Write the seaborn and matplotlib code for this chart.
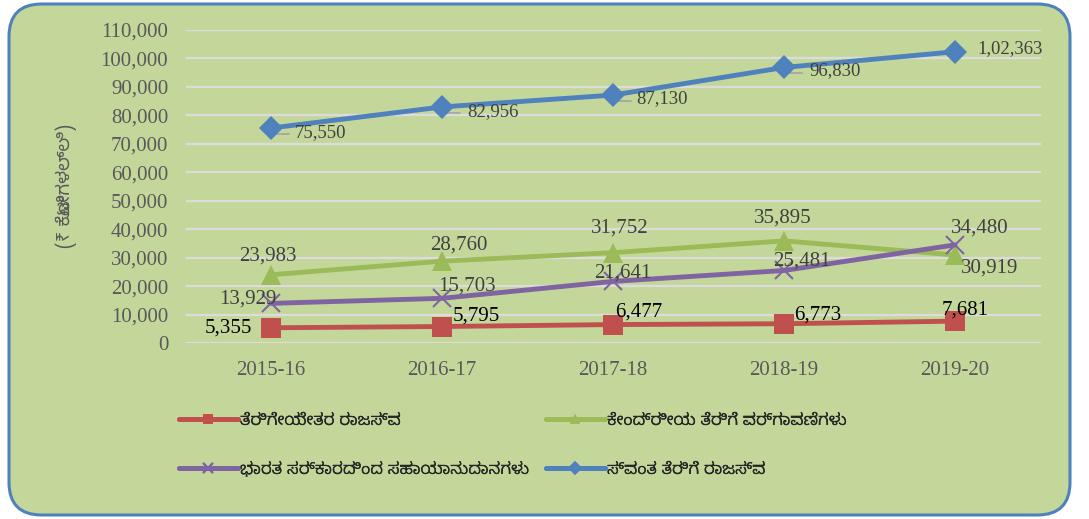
import matplotlib
matplotlib.use("Agg")
import matplotlib.pyplot as plt
import seaborn as sns
import pandas as pd
from matplotlib.patches import FancyBboxPatch
from matplotlib.lines import Line2D
from matplotlib.transforms import IdentityTransform

# ---------------- data ----------------
years = ["2015-16", "2016-17", "2017-18", "2018-19", "2019-20"]
non_tax_revenue = [5355, 5795, 6477, 6773, 7681]
central_tax_transfers = [23983, 28760, 31752, 35895, 30919]
goi_grants = [13929, 15703, 21641, 25481, 34480]
own_tax_revenue = [75550, 82956, 87130, 96830, 102363]
series_names = ["ತೆರಿಗೇಯೇತರ ರಾಜಸ್ವ", "ಕೇಂದ್ರೀಯ ತೆರಿಗೆ ವರ್ಗಾವಣೆಗಳು",
                "ಭಾರತ ಸರ್ಕಾರದಿಂದ ಸಹಾಯಾನುದಾನಗಳು", "ಸ್ವಂತ ತೆರಿಗೆ ರಾಜಸ್ವ"]
own_tax_labels = ["75,550", "82,956", "87,130", "96,830", "1,02,363"]
ylabel = "(₹ ಕೋಟಿಗಳಲ್ಲಿ)"

# ---------------- fonts ----------------
kfam = ["Noto Sans Kannada", "Noto Sans", "DejaVu Sans"]
serif = "Liberation Serif"

sns.set_theme(style="white")
plt.rcParams["font.family"] = kfam

bg = "#C4D79B"
colors = ["#C0504D", "#9BBB59", "#8064A2", "#4F81BD"]
markers = ["s", "^", "x", "D"]
msizes = [14, 14, 13, 12]
tick_col = "#595959"

df = pd.DataFrame({
    "year": years * 4,
    "value": non_tax_revenue + central_tax_transfers + goi_grants + own_tax_revenue,
    "series": sum([[n] * len(years) for n in series_names], []),
})

fig = plt.figure(figsize=(10.89, 5.19), dpi=100)
fig.patch.set_facecolor("white")
frame = FancyBboxPatch((9 / 1089, 4 / 519), 1061 / 1089, 511 / 519,
                       boxstyle="round,pad=0,rounding_size=0.03",
                       transform=fig.transFigure, facecolor=bg,
                       edgecolor="#4F81BD", linewidth=2.2, zorder=-5,
                       mutation_aspect=1089 / 519)
fig.patches.append(frame)

ax = fig.add_axes([185.5 / 1089, 1 - 343 / 519, 855 / 1089, 313 / 519])
ax.set_facecolor("none")
ax.set_zorder(1)

for i, name in enumerate(series_names):
    sub = df[df["series"] == name]
    sns.lineplot(data=sub, x="year", y="value", ax=ax, color=colors[i],
                 marker=markers[i], markersize=msizes[i], linewidth=3.5,
                 markeredgecolor=colors[i], markeredgewidth=1.5 if markers[i] == "x" else 0,
                 label=name, zorder=3 + i, sort=False)

ax.set_xlim(-0.5, 4.5)
ax.set_ylim(0, 110000)
ax.set_yticks(range(0, 110001, 10000))
ax.set_yticklabels([f"{v:,}" for v in range(0, 110001, 10000)],
                   fontfamily=serif, fontsize=15, color=tick_col)
ax.set_xticks(range(len(years)))
ax.set_xticklabels(years, fontfamily=serif, fontsize=15, color=tick_col)
ax.tick_params(axis="y", length=0, pad=12.5)
ax.tick_params(axis="x", length=0, pad=13)
ax.grid(axis="y", color="#DCDCDC", linewidth=1.6, zorder=1)
ax.set_axisbelow(True)
for s in ax.spines.values():
    s.set_visible(False)
ax.set_xlabel("")
ax.set_ylabel(ylabel, fontsize=13, fontweight="bold", color=tick_col,
              family=kfam, labelpad=17)

# data labels (offsets in pixels, y up)
lab_col = "#404040"
off_red = [(-43, 0), (34, 10), (26, 13), (34, 9), (10, 11)]
off_green = [(-3, 19), (17, 16), (7, 25), (-1, 23), (35, -13)]
off_purple = [(-23, 4), (25, 12), (10, 8), (18, 9), (25, 17)]
off_blue = [(49, -5), (51, -5), (49, -4), (51, -3), (55, 3)]
for j in range(len(years)):
    ax.annotate(f"{non_tax_revenue[j]:,}", (j, non_tax_revenue[j]), xytext=off_red[j],
                textcoords="offset pixels", ha="center", va="center",
                fontsize=15, color="black", family=serif, zorder=10)
    ax.annotate(f"{central_tax_transfers[j]:,}", (j, central_tax_transfers[j]), xytext=off_green[j],
                textcoords="offset pixels", ha="center", va="center",
                fontsize=15, color=lab_col, family=serif, zorder=10)
    ax.annotate(f"{goi_grants[j]:,}", (j, goi_grants[j]), xytext=off_purple[j],
                textcoords="offset pixels", ha="center", va="center",
                fontsize=15, color=lab_col, family=serif, zorder=10)
    ax.annotate(own_tax_labels[j], (j, own_tax_revenue[j]), xytext=off_blue[j],
                textcoords="offset pixels", ha="center", va="center",
                fontsize=13.5, color=lab_col, family=serif, zorder=10)

# leader lines for the blue labels
for j in range(len(years) - 1):
    px, py = ax.transData.transform((j, own_tax_revenue[j]))
    fig.add_artist(Line2D([px + 1, px + 1, px + 18], [py, py - 6, py - 6],
                          transform=IdentityTransform(), color="#A6A6A6",
                          linewidth=1.3, zorder=0.5))

h, l = ax.get_legend_handles_labels()
if ax.get_legend():
    ax.get_legend().remove()
for cols, x0 in (([0, 2], 167), ([1, 3], 534)):
    lg = fig.legend([h[k] for k in cols], [l[k] for k in cols], ncol=1,
                    loc="upper left", bbox_to_anchor=(x0 / 1089, 1 - 401 / 519),
                    frameon=False, handlelength=3.55, handletextpad=0.15,
                    labelspacing=2.0, borderpad=0.2,
                    prop={"family": kfam, "size": 12})
    for lh in lg.legend_handles:
        lh.set_markersize(7)
    fig.add_artist(lg)

fig.savefig("out.png", dpi=100, facecolor="white")
